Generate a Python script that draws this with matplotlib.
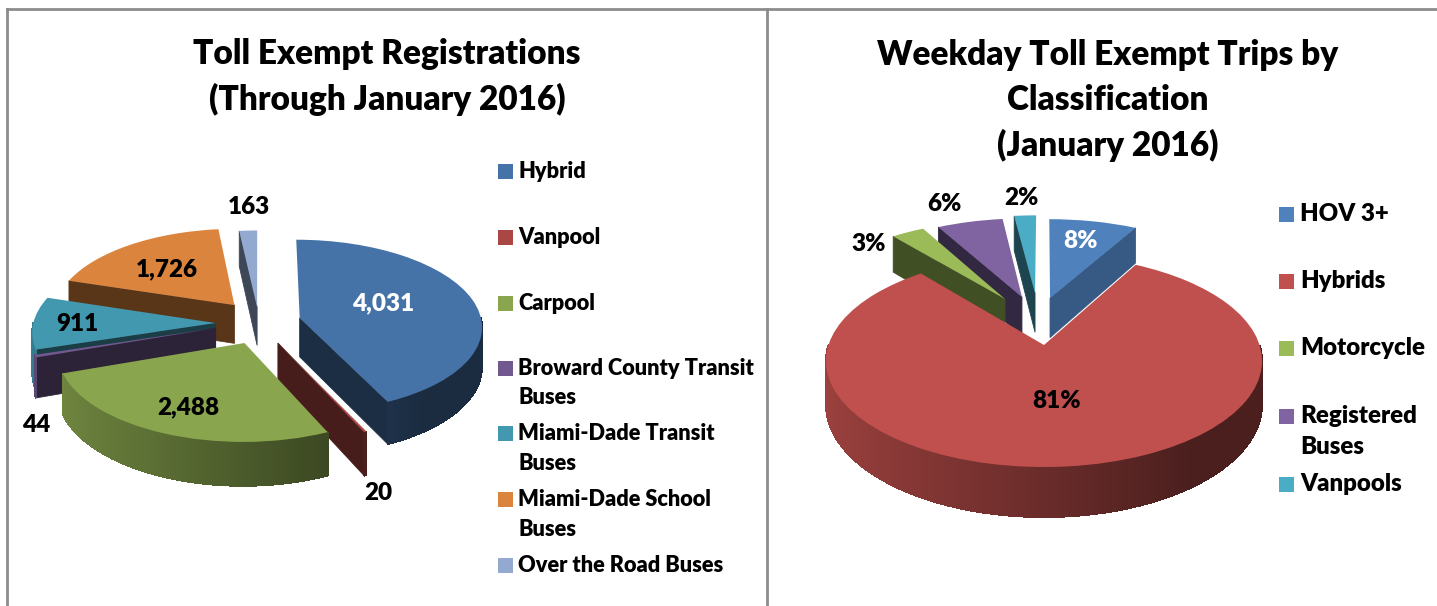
import matplotlib
matplotlib.use('Agg')
import matplotlib.pyplot as plt
import matplotlib.transforms as mtransforms
from matplotlib.patches import Rectangle
import numpy as np

W, H = 1437, 606

# left chart
reg_labels = ['Hybrid', 'Vanpool', 'Carpool', 'Broward County Transit\nBuses', 'Miami-Dade Transit\nBuses',
              'Miami-Dade School\nBuses', 'Over the Road Buses']
reg_values = [4031, 20, 2488, 44, 911, 1726, 163]
reg_colors = ['#4572a7', '#aa4643', '#89a54e', '#71588f', '#4198af', '#db843d', '#93a9cf']

# right chart
trip_labels = ['HOV 3+', 'Hybrids', 'Motorcycle', 'Registered\nBuses', 'Vanpools']
trip_values = [8, 81, 3, 6, 2]
trip_colors = ['#4f81bd', '#c0504d', '#9bbb59', '#8064a2', '#4bacc6']

# where each slice has been pulled to, in pie units
reg_offsets = [(.23, .047), (.107, -.239), (-.073, -.239), (-.231, -.07), (-.233, -.012), (-.132, .201), (-.005, .177)]
trip_offsets = [(.03, .487), (0, 0), (-.194, .476), (-.11, .498), (-.045, .543)]
reg_cut = [.4, .42, .42, .4, .4, .41, .42]
trip_cut = [.7, .4, .42, .4, .4]

# (x, y, colour) of the value labels in pixels
reg_text = [(383, 303, 'white'), (378, 493, 'black'), (188, 407, 'black'), (36, 425, 'black'),
            (77, 324, 'black'), (167, 269, 'black'), (249, 207, 'black')]
trip_text = [(1081, 241, 'white'), (1057, 401, 'black'), (869, 244, 'black'), (944, 204, 'black'), (1021, 198, 'black')]

plt.rcParams['font.family'] = ['Lato', 'DejaVu Sans']
plt.rcParams['font.weight'] = 'heavy'


class Tilt(mtransforms.Transform):
    """pie plane seen in perspective, far side smaller"""
    input_dims = 2
    output_dims = 2

    def __init__(self, k):
        super().__init__()
        self.k = k

    def transform_non_affine(self, values):
        values = np.asarray(values, dtype=float)
        s = 1 / (1 + self.k * values[:, 1])
        return np.column_stack([values[:, 0] * s, values[:, 1] * s])


def shade(color, f):
    return tuple(np.array(matplotlib.colors.to_rgb(color)) * f)


def draw_pie(fig, values, colors, offsets, cut, cx, cy, rx, ry, k, depth):
    ax = fig.add_axes([(cx - 2 * rx) / W, (H - cy - 2 * ry) / H, 4 * rx / W, 4 * ry / H])
    wedges, _ = ax.pie(values, colors=colors, startangle=90, counterclock=False, radius=1)
    ax.set_aspect('auto')
    ax.set_xlim(-2, 2)
    ax.set_ylim(-2, 2)
    ax.patch.set_visible(False)
    tilt = Tilt(k)
    d = depth / ry

    def side(pts, color, z, aa=True):
        pts = np.array(pts, dtype=float)
        top = tilt.transform(pts)
        bottom = top - np.column_stack([np.zeros(len(pts)), d / (1 + k * pts[:, 1])])
        poly = np.vstack([top, bottom[::-1]])
        ax.fill(poly[:, 0], poly[:, 1], color=color, lw=0.6, zorder=z, clip_on=False, antialiased=aa)

    order = sorted(range(len(values)), key=lambda i: -offsets[i][1])
    for n, i in enumerate(order):
        w = wedges[i]
        u0, v0 = offsets[i]
        w.set_center((u0, v0))
        base = n * 10
        t1, t2 = w.theta1, w.theta2
        # flat cut faces
        for t, normal in ((t1, t1 - 90), (t2, t2 + 90)):
            if np.sin(np.radians(normal)) < -1e-6:
                rim = (u0 + np.cos(np.radians(t)), v0 + np.sin(np.radians(t)))
                side([(u0, v0), rim], shade(colors[i], cut[i]), base + 1)
        # outer wall, darker to the right
        steps = np.linspace(t1, t2, max(int((t2 - t1) / 0.5) + 2, 2))
        for a, b in zip(steps[:-1], steps[1:]):
            mid = np.radians((a + b) / 2)
            if np.sin(mid) > 0:
                continue
            f = np.interp(np.cos(mid), [-1, 0.6], [.82, .39])
            side([(u0 + np.cos(np.radians(a)), v0 + np.sin(np.radians(a))),
                  (u0 + np.cos(np.radians(b)), v0 + np.sin(np.radians(b)))],
                 shade(colors[i], f), base + 2, aa=False)
        w.set_transform(tilt + ax.transData)
        w.set_clip_on(False)
        w.set_zorder(base + 3)
    return ax


def draw_legend(fig, labels, colors, tops, box_x, text_x, size, lift):
    for label, color, y in zip(labels, colors, tops):
        fig.add_artist(Rectangle((box_x / W, 1 - (y + 8) / H), 15 / W, 15 / H, transform=fig.transFigure,
                                 facecolor=color, edgecolor='none'))
        fig.text(text_x / W, 1 - (y - lift) / H, label, fontsize=size, va='top', ha='left', linespacing=1.5)


fig = plt.figure(figsize=(W / 100, H / 100), dpi=100, facecolor='white')

draw_pie(fig, reg_values, reg_colors, reg_offsets, reg_cut, 258, 322, 182, 86, .09, 39)
draw_pie(fig, trip_values, trip_colors, trip_offsets, trip_cut, 1044, 345, 215.5, 103.6, .151, 42.5)

for v, (x, y, c) in zip(reg_values, reg_text):
    fig.text(x / W, 1 - y / H, f'{v:,}', color=c, fontsize=17.5, ha='center', va='center')
for v, (x, y, c) in zip(trip_values, trip_text):
    fig.text(x / W, 1 - y / H, f'{v}%', color=c, fontsize=17.5, ha='center', va='center')

for text, x, y in (('Toll Exempt Registrations', 387, 54), ('(Through January 2016)', 387, 99),
                   ('Weekday Toll Exempt Trips by', 1108, 55), ('Classification', 1108, 100), ('(January 2016)', 1108, 145)):
    fig.text(x / W, 1 - y / H, text, fontsize=24, ha='center', va='center')

draw_legend(fig, reg_labels, reg_colors, [171, 237, 303, 368, 433, 499, 565], 498, 518, 15.7, 10)
draw_legend(fig, trip_labels, trip_colors, [214, 281, 348, 416, 484], 1279, 1300, 17.3, 11)

# panel borders
top = 1 - 8.5 / H
fig.add_artist(plt.Line2D([7 / W, 1], [top, top], color='#8c8c8c', lw=2))
for x in (7, 767):
    fig.add_artist(plt.Line2D([x / W, x / W], [0, top], color='#8c8c8c', lw=2))

fig.savefig('out.png', dpi=100, facecolor='white')
